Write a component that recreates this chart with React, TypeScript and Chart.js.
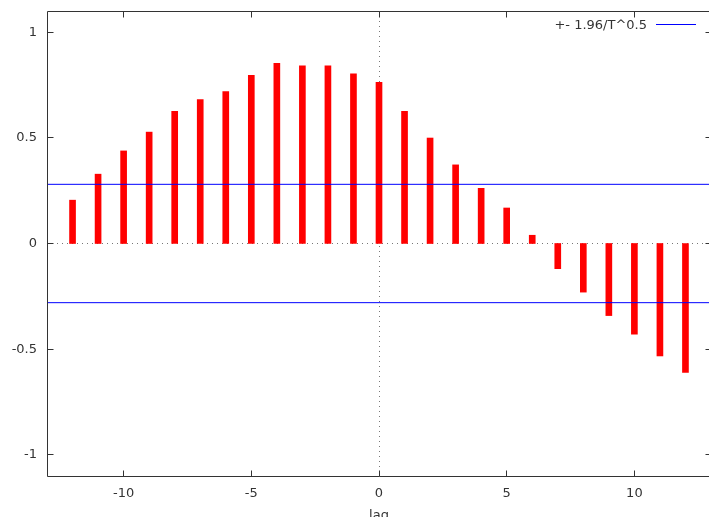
import React, { useEffect, useRef } from "react";
import { Chart, registerables } from "chart.js";

Chart.register(...registerables);

// ---- data ----
const lags = [-12, -11, -10, -9, -8, -7, -6, -5, -4, -3, -2, -1, 0, 1, 2, 3, 4, 5, 6, 7, 8, 9, 10, 11, 12];
const ccf = [
  0.205, 0.328, 0.438, 0.527, 0.625, 0.681, 0.719, 0.796, 0.852, 0.841, 0.841, 0.803,
  0.763, 0.625, 0.499, 0.372, 0.261, 0.168, 0.039, -0.119, -0.23, -0.341, -0.429, -0.532, -0.61,
];
const bandValue = 0.28;
const bandLabel = "+- 1.96/T^0.5";
const xTickValues = [-10, -5, 0, 5, 10];
const yTickValues = [-1, -0.5, 0, 0.5, 1];
const xRange = [-13, 13];
const yRange = [-1.1, 1.1];
const xTitle = "lag";

const FONT = "'DejaVu Sans', Verdana, sans-serif";
const TEXT = "#333333";

const gnuplotPlugin = {
  id: "gnuplotFrame",
  beforeDatasetsDraw(chart: any) {
    const { ctx, chartArea: a } = chart;
    const xs = chart.scales.x;
    const ys = chart.scales.y;
    ctx.save();
    ctx.strokeStyle = "#777777";
    ctx.lineWidth = 1;
    ctx.setLineDash([1, 4]);
    const y0 = Math.floor(ys.getPixelForValue(0)) + 0.5;
    const x0 = Math.floor(xs.getPixelForValue(0)) + 0.5;
    ctx.beginPath();
    ctx.moveTo(a.left, y0);
    ctx.lineTo(a.right, y0);
    ctx.moveTo(x0, a.top);
    ctx.lineTo(x0, a.bottom);
    ctx.stroke();
    ctx.restore();
  },
  afterDatasetsDraw(chart: any) {
    const { ctx, chartArea: a } = chart;
    const xs = chart.scales.x;
    const ys = chart.scales.y;
    const L = Math.floor(a.left) + 0.5;
    const R = Math.floor(a.right) + 0.5;
    const T = Math.floor(a.top) + 0.5;
    const B = Math.floor(a.bottom) + 0.5;
    ctx.save();
    ctx.strokeStyle = "#333333";
    ctx.lineWidth = 1;
    ctx.setLineDash([]);
    ctx.beginPath();
    ctx.rect(L, T, R - L, B - T);
    const tl = 6;
    xs.ticks.forEach((t: any) => {
      const px = Math.floor(xs.getPixelForValue(t.value)) + 0.5;
      ctx.moveTo(px, B);
      ctx.lineTo(px, B - tl);
      ctx.moveTo(px, T);
      ctx.lineTo(px, T + tl);
    });
    ys.ticks.forEach((t: any) => {
      const py = Math.floor(ys.getPixelForValue(t.value)) + 0.5;
      ctx.moveTo(L, py);
      ctx.lineTo(L + tl, py);
      ctx.moveTo(R, py);
      ctx.lineTo(R - tl, py);
    });
    ctx.stroke();

    // legend (gnuplot style: text then line sample, top-right inside)
    const ds = chart.data.datasets.find((d: any) => d.type === "line");
    if (ds) {
      const lineEnd = a.right - 15;
      const lineStart = a.right - 55;
      const ly = Math.floor(a.top + 13) + 0.5;
      ctx.strokeStyle = ds.borderColor;
      ctx.lineWidth = 1;
      ctx.beginPath();
      ctx.moveTo(lineStart, ly);
      ctx.lineTo(lineEnd, ly);
      ctx.stroke();
      ctx.fillStyle = TEXT;
      ctx.font = `13px ${FONT}`;
      ctx.textAlign = "right";
      ctx.textBaseline = "middle";
      ctx.fillText(ds.label, a.right - 64, a.top + 15);
    }
    ctx.restore();
  },
};

export default function App() {
  const ref = useRef<HTMLCanvasElement | null>(null);

  useEffect(() => {
    if (!ref.current) return;
    const barData = lags.map((l, i) => ({ x: l, y: ccf[i] }));
    const upper = xRange.map((x) => ({ x, y: bandValue }));
    const lower = xRange.map((x) => ({ x, y: -bandValue }));

    const chart = new Chart(ref.current, {
      type: "bar",
      data: {
        datasets: [
          {
            type: "line",
            label: bandLabel,
            data: upper,
            borderColor: "#0000ff",
            borderWidth: 1,
            pointRadius: 0,
            order: 0,
          } as any,
          {
            type: "line",
            label: bandLabel,
            data: lower,
            borderColor: "#0000ff",
            borderWidth: 1,
            pointRadius: 0,
            order: 0,
          } as any,
          {
            type: "bar",
            label: "ccf",
            data: barData,
            backgroundColor: "#ff0000",
            borderWidth: 0,
            barThickness: 6,
            order: 1,
          } as any,
        ],
      },
      options: {
        animation: false,
        responsive: true,
        maintainAspectRatio: false,
        layout: { padding: { left: 0, top: 11, right: 9, bottom: 0 } },
        plugins: {
          legend: { display: false },
          tooltip: { enabled: false },
        },
        scales: {
          x: {
            type: "linear",
            min: xRange[0],
            max: xRange[1],
            offset: false,
            grid: { display: false, drawTicks: false },
            border: { display: false },
            afterBuildTicks: (s: any) => {
              s.ticks = xTickValues.map((v) => ({ value: v }));
            },
            afterFit: (s: any) => {
              s.height = 54;
              s.paddingLeft = 0;
              s.paddingRight = 0;
            },
            ticks: {
              color: TEXT,
              font: { family: FONT, size: 13 },
              padding: 10,
              maxRotation: 0,
              autoSkip: false,
              callback: (v: any) => String(v),
            },
            title: {
              display: true,
              text: xTitle,
              color: TEXT,
              font: { family: FONT, size: 13 },
              padding: { top: 0, bottom: 7 },
            },
          },
          y: {
            type: "linear",
            min: yRange[0],
            max: yRange[1],
            grid: { display: false, drawTicks: false },
            border: { display: false },
            afterBuildTicks: (s: any) => {
              s.ticks = yTickValues.map((v) => ({ value: v }));
            },
            afterFit: (s: any) => {
              s.width = 47;
              s.paddingTop = 0;
              s.paddingBottom = 0;
            },
            ticks: {
              color: TEXT,
              font: { family: FONT, size: 13 },
              padding: 10,
              autoSkip: false,
              callback: (v: any) => String(v),
            },
          },
        },
      },
      plugins: [gnuplotPlugin],
    });
    return () => chart.destroy();
  }, []);

  return (
    <div
      style={{
        position: "fixed",
        left: 0,
        top: 0,
        width: 709,
        height: 517,
        overflow: "hidden",
        background: "#ffffff",
      }}
    >
      <div style={{ position: "relative", width: 720, height: 530 }}>
        <canvas ref={ref} />
      </div>
    </div>
  );
}
